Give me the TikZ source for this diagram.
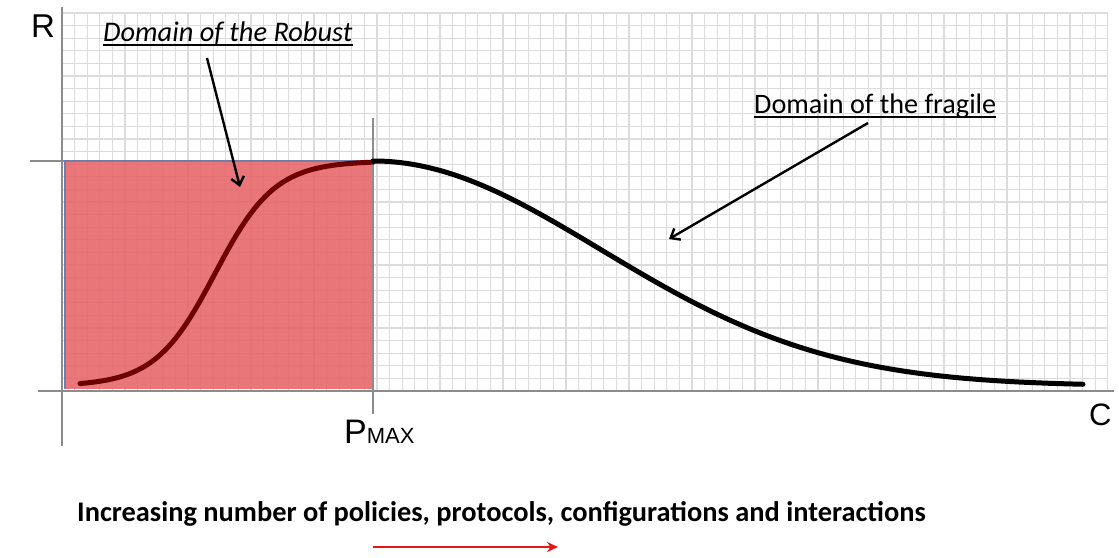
\documentclass[tikz,border=0pt]{standalone}
\usepackage{fontspec}
\setmainfont{Carlito}
\newfontfamily\arialf{Liberation Sans}
\usetikzlibrary{arrows.meta}
\definecolor{gridc}{RGB}{220,220,220}
\definecolor{axisc}{RGB}{140,140,140}
\definecolor{robustfill}{RGB}{230,100,104}
\definecolor{robustedge}{RGB}{115,125,170}
\definecolor{sigc}{RGB}{110,0,0}
\definecolor{arrowred}{RGB}{235,20,20}
\tikzset{
  gridline/.style={draw=gridc, line width=1.2pt},
  axisline/.style={draw=axisc, line width=2.6pt},
  tickline/.style={draw=axisc, line width=1.5pt},
  curveline/.style={line width=5pt, line cap=round},
  pointer/.style={draw=black, line width=2.4pt, -{Straight Barb[length=8pt,width=13pt,line width=2.4pt]}},
  lbl/.style={inner sep=0pt, anchor=base west},
}
\begin{document}
\begin{tikzpicture}[x=1pt,y=-1pt]
\useasboundingbox (0,0) rectangle (1119,557);
% grid
\foreach \i in {0,...,83} {
  \draw[gridline] ({62+\i*12.6},13) -- ({62+\i*12.6},391);
}
\foreach \j in {0,...,30} {
  \draw[gridline] (62,{391-\j*12.6}) -- (1108,{391-\j*12.6});
}
% robust region
\fill[robustfill, fill opacity=0.88] (65,161) rectangle (373,389);
\draw[robustedge, line width=1.6pt] (65,389) -- (65,161) -- (373,161) -- (373,389);
% axes and ticks
\draw[tickline] (373,118) -- (373,414);
\draw[tickline] (30,161) -- (64,161);
\draw[axisline] (62,7) -- (62,446);
\draw[axisline] (38,391) -- (1114,391);
% curves
\draw[curveline, draw=sigc] plot[domain=80:373, samples=80, smooth] (\x, {386-225/(1+exp(-(\x-215)/30))});
\draw[curveline, draw=black] plot[domain=373:1083, samples=100, smooth] (\x, {386-225*exp(-((\x-373)/322)^2)});
% labels
\node[lbl] (R) at (31,37) {\fontsize{33}{33}\arialf R};
\node[lbl] (C) at (1089,425) {\fontsize{31}{31}\arialf C};
\node[lbl] (P) at (344,443) {\fontsize{34}{34}\arialf P\fontsize{22}{22}\selectfont MAX};
\node[lbl] (rob) at (103,41) {\fontsize{28.4}{28.4}\selectfont\itshape Domain of the Robust};
\draw[line width=1.3pt] ([yshift=-4pt]rob.base west) -- ([yshift=-4pt]rob.base east);
\node[lbl] (frag) at (754,113) {\fontsize{28.2}{28.2}\selectfont Domain of the fragile};
\draw[line width=1.3pt] ([yshift=-4pt]frag.base west) -- ([yshift=-4pt]frag.base east);
\node[lbl] (inc) at (77,521) {\fontsize{28.4}{28.4}\selectfont\bfseries Increasing number of policies, protocols, configurations and interactions};
% pointers
\coordinate (robS) at (207,58);
\coordinate (robT) at (240,187);
\coordinate (fragS) at (868,123);
\coordinate (fragT) at (669,239);
\draw[pointer] (robS) -- (robT);
\draw[pointer] (fragS) -- (fragT);
% red arrow
\coordinate (ra) at (373,547);
\coordinate (rb) at (558,547);
\draw[draw=arrowred, line width=2.6pt, -{Stealth[length=11pt,width=10pt]}] (ra) -- (rb);
\end{tikzpicture}
\end{document}
